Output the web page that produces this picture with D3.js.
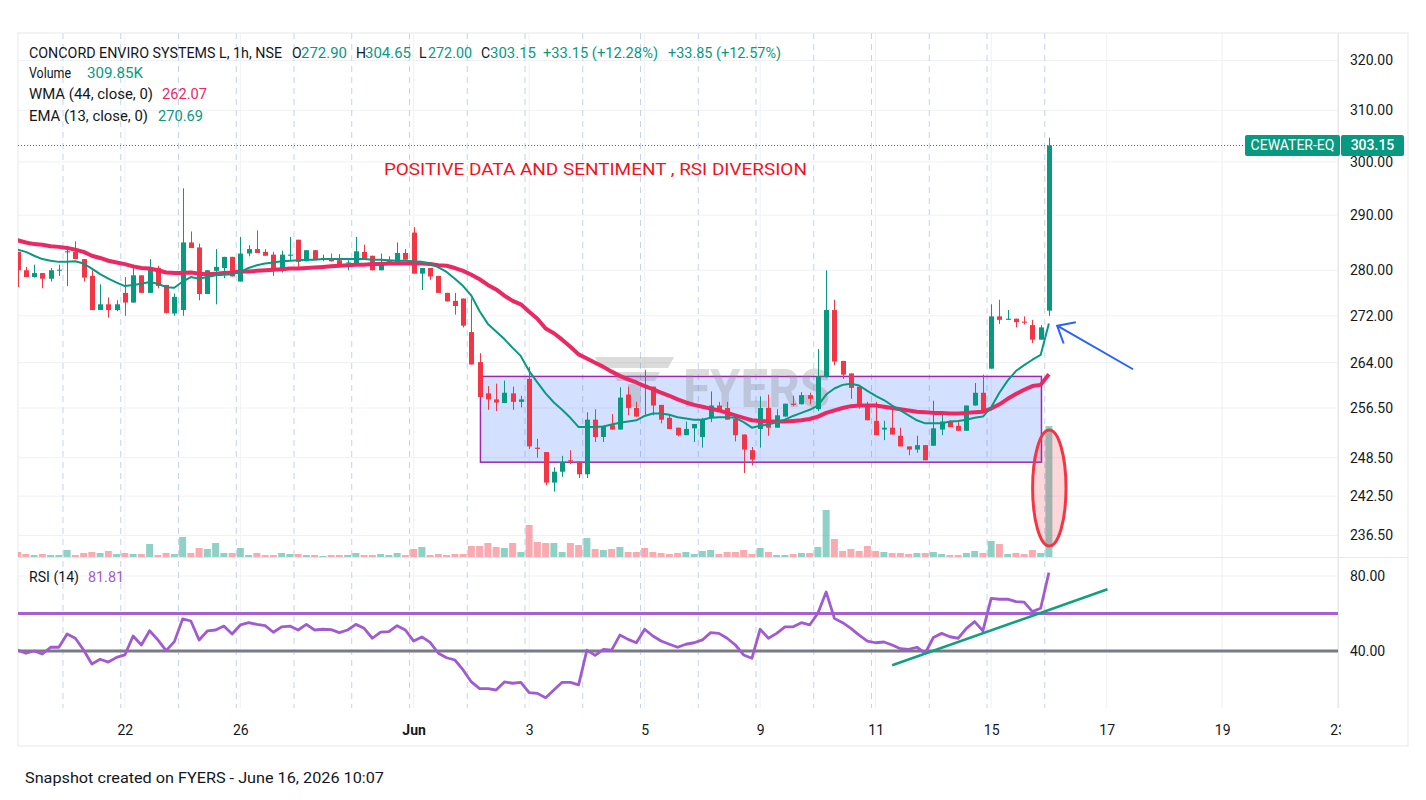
<!DOCTYPE html>
<html lang="en">
<head>
<meta charset="UTF-8">
<title>CONCORD ENVIRO SYSTEMS L, 1h, NSE</title>
<script src="https://d3js.org/d3.v7.min.js"></script>
<style>
  body { margin: 0; background: #fff; }
  svg text { font-family: Roboto, 'Noto Sans', Arial, sans-serif; }
</style>
</head>
<body>
<svg id="chart" width="1426" height="800"></svg>
<script>
// bar 0 = 10:15 bar of 20 May, one bar per hour, 7 bars per session
const open = [
  283.3, 280.0, 278.8, 279.5, 278.5, 280.0,
  283.2, 283.3, 282.0, 279.0, 273.0, 274.0, 273.0,
  276.0, 274.3, 279.1, 276.0, 280.4, 277.4, 272.4,
  273.0, 285.0, 284.1, 275.8, 279.9, 280.4, 282.4,
  278.0, 283.0, 283.8, 283.3, 282.8, 280.4, 282.6,
  285.5, 281.6, 283.6, 282.0, 282.2, 281.8, 281.2,
  281.0, 283.3, 282.6, 280.0, 281.5, 281.3, 283.1,
  286.8, 279.4, 280.4, 279.0, 276.0, 274.6, 275.0,
  269.2, 264.1, 258.9, 257.9, 257.3, 258.9, 257.5,
  261.3, 250.1, 249.4, 244.6, 246.3, 248.1, 247.9,
  245.9, 254.6, 251.8, 253.7, 253.0, 258.7, 256.5,
  260.3, 260.0, 257.0, 254.9, 253.3, 252.1, 253.2,
  251.8, 254.9, 256.9, 256.5, 254.7, 252.2, 249.7,
  253.1, 256.5, 253.3, 255.1, 257.2, 257.1, 258.6,
  256.3, 261.7, 273.0, 264.3, 262.2, 260.0, 257.0,
  254.4, 253.0, 253.3, 252.0, 250.3, 249.8, 250.5,
  250.4, 253.0, 254.3, 253.6, 252.8, 256.9, 259.0,
  263.0, 271.9, 271.3, 271.5, 271.0, 270.4, 267.9,
  272.90
];
const high = [
  283.3, 280.6, 281.0, 279.5, 280.4, 281.0,
  284.4, 285.2, 282.0, 280.0, 277.5, 275.2, 274.7,
  278.8, 281.0, 279.1, 282.0, 280.8, 277.4, 275.9,
  295.0, 287.0, 284.8, 280.0, 283.8, 282.4, 282.4,
  286.0, 284.5, 287.2, 283.8, 283.3, 283.5, 286.0,
  285.5, 283.6, 283.6, 282.8, 283.0, 282.9, 281.8,
  286.0, 284.6, 282.6, 283.0, 282.5, 285.0, 283.8,
  287.8, 280.4, 280.4, 279.0, 276.0, 276.0, 275.0,
  275.0, 265.6, 260.1, 260.5, 261.0, 260.0, 258.5,
  263.3, 251.5, 249.4, 247.0, 248.8, 249.7, 247.9,
  255.8, 256.3, 253.6, 255.5, 259.9, 260.0, 257.5,
  262.8, 260.0, 257.0, 255.5, 253.3, 254.3, 253.9,
  254.9, 259.2, 257.5, 257.5, 254.7, 252.2, 250.2,
  258.4, 258.7, 256.3, 257.2, 258.5, 259.1, 259.0,
  266.3, 280.0, 274.8, 264.3, 262.2, 260.2, 257.5,
  257.5, 254.4, 256.7, 253.3, 250.3, 252.0, 250.5,
  257.7, 255.7, 254.5, 254.2, 256.9, 260.6, 262.0,
  274.0, 274.8, 273.0, 271.5, 271.9, 271.3, 270.4,
  304.65
];
const low = [
  277.0, 278.8, 278.7, 276.8, 278.0, 279.0,
  277.2, 282.0, 278.0, 273.0, 273.0, 271.7, 272.8,
  272.0, 274.3, 276.0, 276.0, 276.8, 272.4, 272.0,
  272.0, 284.0, 274.7, 275.8, 274.0, 278.6, 278.9,
  278.0, 282.5, 283.1, 282.6, 279.0, 279.6, 281.8,
  280.3, 281.6, 281.9, 281.6, 281.6, 280.8, 280.0,
  281.0, 281.9, 280.0, 280.0, 281.3, 281.3, 281.9,
  279.4, 276.5, 278.3, 276.0, 274.5, 272.2, 270.0,
  263.7, 258.3, 256.2, 256.0, 257.3, 256.2, 256.6,
  249.9, 248.5, 244.2, 243.2, 245.5, 247.5, 245.3,
  245.3, 251.0, 251.0, 253.0, 253.0, 255.3, 255.1,
  255.3, 255.3, 254.0, 253.1, 251.9, 252.1, 251.0,
  250.1, 254.2, 256.2, 254.6, 251.1, 246.1, 247.3,
  250.1, 252.0, 253.3, 255.1, 256.8, 257.1, 257.1,
  256.0, 261.5, 263.6, 261.3, 258.0, 256.4, 254.5,
  252.1, 251.3, 252.2, 250.3, 248.9, 249.3, 248.1,
  250.4, 252.1, 253.4, 252.8, 252.8, 256.9, 256.0,
  263.0, 270.6, 271.3, 270.0, 270.5, 267.3, 267.9,
  272.00
];
const close = [
  280.0, 278.8, 279.5, 278.5, 280.0, 280.1,
  283.4, 282.0, 278.7, 273.0, 274.0, 273.0, 274.0,
  274.3, 279.1, 276.0, 280.5, 277.2, 272.5, 275.3,
  285.0, 284.0, 275.8, 280.0, 280.6, 282.4, 278.9,
  283.0, 283.8, 283.1, 282.6, 280.4, 282.8, 282.8,
  281.5, 283.6, 281.9, 282.2, 281.6, 281.1, 281.4,
  283.4, 281.9, 280.0, 281.5, 281.8, 283.1, 281.9,
  279.4, 280.4, 278.9, 276.0, 274.5, 273.7, 270.3,
  263.7, 258.3, 257.9, 257.4, 259.0, 257.5, 257.9,
  250.3, 249.9, 244.6, 246.3, 247.8, 247.9, 245.9,
  254.6, 251.8, 253.6, 253.0, 258.2, 256.5, 255.1,
  260.0, 256.9, 254.6, 253.1, 252.1, 253.1, 253.9,
  254.6, 256.9, 256.2, 254.6, 252.1, 249.8, 248.2,
  256.5, 253.3, 255.3, 257.2, 257.0, 258.6, 258.0,
  261.7, 273.0, 264.2, 262.0, 259.8, 256.8, 254.5,
  252.1, 253.3, 252.2, 250.3, 249.8, 250.5, 248.1,
  253.2, 254.3, 253.4, 252.8, 256.9, 259.0, 256.0,
  271.9, 271.3, 271.5, 270.9, 270.8, 267.9, 270.0,
  303.15
];
// volume in thousands
const volumeK = [
  11.8, 7.1, 4.7, 7.1, 4.7, 4.7,
  16.6, 4.7, 9.5, 11.8, 9.5, 14.2, 7.1,
  9.5, 7.1, 7.1, 30.7, 4.7, 9.5, 7.1,
  47.3, 9.5, 21.3, 18.9, 33.1, 9.5, 9.5,
  21.3, 4.7, 9.5, 4.7, 4.7, 9.5, 7.1,
  7.1, 4.7, 4.7, 2.4, 4.7, 4.7, 4.7,
  9.5, 4.7, 4.7, 7.1, 4.7, 9.5, 4.7,
  18.9, 23.7, 4.7, 7.1, 4.7, 7.1, 7.1,
  26.0, 26.0, 33.1, 23.7, 21.3, 33.1, 11.8,
  75.7, 35.5, 33.1, 33.1, 11.8, 33.1, 28.4,
  45.0, 18.9, 16.6, 18.9, 23.7, 11.8, 11.8,
  21.3, 11.8, 9.5, 7.1, 9.5, 11.8, 7.1,
  14.2, 16.6, 7.1, 11.8, 11.8, 16.6, 7.1,
  21.3, 11.8, 4.7, 4.7, 7.1, 9.5, 9.5,
  23.7, 111.2, 42.6, 14.2, 18.9, 14.2, 26.0,
  14.2, 11.8, 9.5, 9.5, 7.1, 9.5, 9.5,
  11.8, 7.1, 4.7, 4.7, 9.5, 14.2, 9.5,
  37.8, 30.7, 7.1, 9.5, 7.1, 16.6, 9.5,
  309.85
];
const ema13 = [
  283.7, 283.3, 282.6, 282.0, 281.7, 281.5,
  281.5, 281.6, 281.2, 280.3, 279.3, 278.5, 277.8,
  277.2, 277.4, 277.6, 277.9, 277.6, 277.0, 276.9,
  278.0, 278.8, 278.5, 278.8, 279.1, 279.2, 279.3,
  279.7, 280.4, 280.9, 281.2, 281.4, 281.6, 281.7,
  281.8, 281.9, 281.9, 282.0, 282.0, 282.0, 282.0,
  282.0, 282.0, 281.9, 281.9, 281.8, 281.7, 281.7,
  281.6, 281.5, 281.2, 280.5, 279.7, 278.5, 277.2,
  275.5, 272.8, 270.6, 269.3, 268.0, 266.5, 265.1,
  262.6, 260.7, 258.9, 257.4, 256.2, 254.9, 253.4,
  253.4, 253.4, 253.5, 253.8, 254.1, 254.3, 254.5,
  255.2, 255.6, 255.6, 255.4, 255.0, 254.8, 254.6,
  254.6, 254.9, 255.0, 255.0, 254.9, 254.2, 253.3,
  253.6, 253.8, 254.2, 254.6, 255.2, 255.7, 256.2,
  256.9, 258.7, 259.7, 260.3, 260.5, 260.2, 259.3,
  258.5, 257.8, 256.9, 256.1, 255.3, 254.5, 254.0,
  254.0, 254.0, 254.3, 254.4, 254.6, 254.9, 255.1,
  256.6, 259.0, 261.0, 262.6, 263.6, 264.5, 265.3,
  270.69
];
const wma44 = [
  285.4, 285.0, 284.7, 284.6, 284.3, 284.2,
  284.0, 283.7, 283.3, 282.6, 282.2, 281.7, 281.4,
  281.1, 280.7, 280.4, 280.3, 280.0, 279.6, 279.5,
  279.5, 279.6, 279.4, 279.3, 279.4, 279.5, 279.6,
  279.8, 279.8, 279.9, 280.0, 280.1, 280.2, 280.3,
  280.3, 280.4, 280.5, 280.6, 280.7, 280.8, 280.9,
  281.0, 281.0, 281.1, 281.1, 281.2, 281.2, 281.2,
  281.2, 281.2, 281.1, 280.9, 280.8, 280.4, 279.9,
  279.2, 278.4, 277.4, 276.6, 275.5, 274.6, 274.0,
  272.7, 271.5, 269.8, 269.0, 267.9, 266.7, 265.4,
  264.7, 264.0, 263.3, 262.5, 261.8, 261.2, 260.7,
  260.1, 259.6, 259.0, 258.5, 257.9, 257.4, 257.0,
  256.7, 256.4, 256.1, 255.7, 255.3, 254.9, 254.5,
  254.4, 254.3, 254.3, 254.3, 254.4, 254.5, 254.7,
  255.1, 255.7, 256.1, 256.5, 256.8, 256.9, 256.9,
  256.9, 256.7, 256.5, 256.3, 256.1, 255.9, 255.8,
  255.7, 255.7, 255.6, 255.6, 255.7, 255.8, 255.9,
  256.4, 257.1, 258.0, 258.8, 259.5, 260.1, 260.3,
  262.07
];
const rsi14 = [
  40.5, 38.8, 40.0, 38.4, 42.0, 42.0,
  49.1, 46.8, 40.5, 33.1, 35.6, 34.1, 36.6,
  37.9, 48.0, 43.2, 50.8, 45.9, 40.2, 45.0,
  57.1, 56.0, 45.9, 50.7, 51.2, 53.3, 49.1,
  53.9, 55.1, 54.2, 53.5, 50.0, 52.9, 53.3,
  51.2, 54.2, 51.2, 51.6, 51.4, 49.8, 51.2,
  54.2, 52.1, 46.8, 50.1, 50.3, 53.5, 51.2,
  45.3, 47.5, 44.6, 38.8, 36.4, 35.2, 29.9,
  23.5, 19.9, 19.9, 19.2, 23.5, 22.8, 23.3,
  17.8, 17.4, 15.1, 19.2, 23.3, 23.3, 21.9,
  40.5, 37.7, 40.9, 40.5, 48.5, 46.2, 44.4,
  51.6, 48.0, 45.3, 43.6, 42.0, 43.6, 44.4,
  45.9, 49.8, 49.4, 46.8, 43.2, 37.9, 36.1,
  51.6, 46.8, 49.4, 52.9, 52.9, 55.1, 53.9,
  60.1, 71.5, 57.4, 55.1, 52.1, 48.5, 45.3,
  44.4, 44.8, 43.2, 41.2, 40.9, 42.0, 38.8,
  47.2, 49.4, 47.6, 46.8, 52.1, 55.7, 50.7,
  68.1, 67.6, 67.7, 66.3, 66.1, 61.0, 62.8,
  81.81
];

const sessionStartBars = d3.range(6, 126, 7);
const timeTickBars = [13, 27, 48, 62, 76, 90, 104, 118, 132, 146, 160];
const timeTickLabels = ['22', '26', 'Jun', '3', '5', '9', '11', '15', '17', '19', '23'];
const priceTicks = [320, 310, 300, 290, 280, 272, 264, 256.5, 248.5, 242.5, 236.5];
const rsiTicks = [80, 40];
const rsiLevels = [60, 40];
const lastPrice = 303.15;
const symbol = 'CEWATER-EQ';

// drawings made on the chart
const zoneBars = [56.1, 124.1], zonePrices = [261.7, 247.8];
const arrowFrom = [135.2, 262.9], arrowTo = [126.0, 270.3];
const volEllipse = { bar: 125.05, top: 300.4, bottom: 26 };
const rsiTrend = [[106.0, 32.4], [132.1, 72.9]];

// layout
const L = 18, R = 1338, T = 33, PB = 557, RT = 558, RB = 708, B = 746, AXR = 1408;
const upCol = '#089981', downCol = '#f23645';
const font = "Roboto, 'Noto Sans', Arial, sans-serif";

const x = d3.scaleLinear().domain([0, 125]).range([17.6, 1048.9]);
const y = d3.scaleLog().domain([236.5, 320]).range([535.5, 60.5]);
const yVol = d3.scaleLinear().domain([0, 309.85]).range([PB, 426]);
const yRsi = d3.scaleLinear().domain([40, 80]).range([651, 576]);
const step = x(1) - x(0);

const bars = open.map((o, i) => ({ i, o, h: high[i], l: low[i], c: close[i], v: volumeK[i] }));
const isUp = d => d.c >= d.o;

const svg = d3.select('#chart');
const defs = svg.append('defs');
defs.append('clipPath').attr('id', 'clipPrice').append('rect')
    .attr('x', L).attr('y', T).attr('width', R - L).attr('height', PB - T);
defs.append('clipPath').attr('id', 'clipRsi').append('rect')
    .attr('x', L).attr('y', RT).attr('width', R - L).attr('height', RB - RT);
defs.append('clipPath').attr('id', 'clipTime').append('rect')
    .attr('x', L).attr('y', RB).attr('width', R - L + 3).attr('height', B - RB);

// grid
const grid = svg.append('g');
grid.selectAll('.hg').data(priceTicks).join('line')
    .attr('x1', L).attr('x2', R).attr('y1', d => y(d)).attr('y2', d => y(d))
    .attr('stroke', '#eff1f4');
grid.append('line').attr('x1', L).attr('x2', R).attr('y1', yRsi(80)).attr('y2', yRsi(80)).attr('stroke', '#eff1f4');
grid.selectAll('.vg').data(timeTickBars).join('line')
    .attr('x1', d => x(d)).attr('x2', d => x(d)).attr('y1', T).attr('y2', RB)
    .attr('stroke', '#eff1f4');
grid.selectAll('.sess').data(sessionStartBars).join('line')
    .attr('x1', d => x(d) - step / 2).attr('x2', d => x(d) - step / 2).attr('y1', T).attr('y2', RB)
    .attr('stroke', '#c3d3f0').attr('stroke-dasharray', '6,5');

// frame
svg.append('rect').attr('x', L).attr('y', T).attr('width', AXR - L).attr('height', B - T)
    .attr('fill', 'none').attr('stroke', '#e6e8ec');
svg.append('line').attr('x1', L).attr('x2', AXR).attr('y1', PB + 0.5).attr('y2', PB + 0.5).attr('stroke', '#e6e8ec');
svg.append('line').attr('x1', R + 0.5).attr('x2', R + 0.5).attr('y1', T).attr('y2', RB).attr('stroke', '#e6e8ec');

const gp = svg.append('g').attr('clip-path', 'url(#clipPrice)');

// volume
gp.selectAll('.vol').data(bars).join('rect')
    .attr('x', d => x(d.i) - 3.5).attr('width', 7)
    .attr('y', d => yVol(d.v)).attr('height', d => yVol(0) - yVol(d.v))
    .attr('fill', d => isUp(d) ? 'rgba(8,153,129,0.45)' : 'rgba(242,54,69,0.42)');

// range box
gp.append('rect')
    .attr('x', x(zoneBars[0])).attr('width', x(zoneBars[1]) - x(zoneBars[0]))
    .attr('y', y(zonePrices[0])).attr('height', y(zonePrices[1]) - y(zonePrices[0]))
    .attr('fill', 'rgba(41,98,255,0.2)').attr('stroke', '#9c27b0').attr('stroke-width', 1.5);

// watermark
const wm = gp.append('g').attr('opacity', 0.3).attr('fill', '#8a8a8a');
wm.append('path').attr('d', 'M595,357 L674,357 L668,368 L601,368 Z M612,372 L660,372 L655,381 L617,381 Z M628,384 L641,384 L641,407 L628,407 Z');
wm.append('text').attr('x', 683).attr('y', 407).attr('font-size', 54).attr('font-weight', 700)
    .attr('textLength', 147).attr('lengthAdjust', 'spacingAndGlyphs').text('FYERS');

// candles
const cg = gp.append('g');
cg.selectAll('.wick').data(bars).join('line')
    .attr('x1', d => Math.round(x(d.i)) + 0.5).attr('x2', d => Math.round(x(d.i)) + 0.5)
    .attr('y1', d => y(d.h)).attr('y2', d => y(d.l))
    .attr('stroke', d => isUp(d) ? upCol : downCol);
cg.selectAll('.body').data(bars).join('rect')
    .attr('x', d => Math.round(x(d.i)) - 2).attr('width', 5)
    .attr('y', d => y(Math.max(d.o, d.c)))
    .attr('height', d => Math.max(1, y(Math.min(d.o, d.c)) - y(Math.max(d.o, d.c))))
    .attr('fill', d => isUp(d) ? upCol : downCol);

// moving averages
const maLine = d3.line().x((d, i) => x(i)).y(d => y(d));
gp.append('path').datum(wma44).attr('d', maLine).attr('fill', 'none')
    .attr('stroke', '#ec2863').attr('stroke-width', 4).attr('stroke-linejoin', 'round');
gp.append('path').datum(ema13).attr('d', maLine).attr('fill', 'none')
    .attr('stroke', '#089981').attr('stroke-width', 2).attr('stroke-linejoin', 'round');

// volume ellipse
const ex = x(volEllipse.bar), ey1 = yVol(volEllipse.top), ey2 = yVol(volEllipse.bottom);
gp.append('ellipse').attr('cx', ex).attr('cy', (ey1 + ey2) / 2).attr('rx', 16.7).attr('ry', (ey2 - ey1) / 2)
    .attr('fill', 'rgba(242,54,69,0.2)').attr('stroke', '#f23645').attr('stroke-width', 3);

// arrow
const ax1 = x(arrowFrom[0]), ay1 = y(arrowFrom[1]), ax2 = x(arrowTo[0]), ay2 = y(arrowTo[1]);
const ang = Math.atan2(ay1 - ay2, ax1 - ax2);
const head = a => [ax2 + 19 * Math.cos(ang + a), ay2 + 19 * Math.sin(ang + a)];
gp.append('path')
    .attr('d', `M${ax1},${ay1} L${ax2},${ay2} M${head(-0.7)} L${ax2},${ay2} L${head(0.7)}`)
    .attr('fill', 'none').attr('stroke', '#2962ff').attr('stroke-width', 2);

// last price line
gp.append('line').attr('x1', L).attr('x2', 1245).attr('y1', y(lastPrice)).attr('y2', y(lastPrice))
    .attr('stroke', upCol).attr('stroke-dasharray', '1,2');

// note text
svg.append('text').attr('x', x(44.4)).attr('y', y(297.6))
    .attr('font-size', 17).attr('fill', '#f2121e')
    .attr('textLength', 423).attr('lengthAdjust', 'spacingAndGlyphs')
    .text('POSITIVE DATA AND SENTIMENT , RSI DIVERSION');

// RSI pane
const gr = svg.append('g').attr('clip-path', 'url(#clipRsi)');
gr.selectAll('.lvl').data(rsiLevels).join('line')
    .attr('x1', L).attr('x2', R).attr('y1', d => yRsi(d)).attr('y2', d => yRsi(d))
    .attr('stroke', (d, i) => i === 0 ? '#a560d2' : '#787b86').attr('stroke-width', 3);
gr.append('path').datum(rsi14)
    .attr('d', d3.line().x((d, i) => x(i)).y(d => yRsi(d)))
    .attr('fill', 'none').attr('stroke', '#a15bd0').attr('stroke-width', 2.8).attr('stroke-linejoin', 'round');
gr.append('line')
    .attr('x1', x(rsiTrend[0][0])).attr('y1', yRsi(rsiTrend[0][1]))
    .attr('x2', x(rsiTrend[1][0])).attr('y2', yRsi(rsiTrend[1][1]))
    .attr('stroke', '#12a07e').attr('stroke-width', 2.6);

// axes
const styleAxis = g => {
  g.select('.domain').remove();
  g.selectAll('text').attr('font-family', font).attr('font-size', 14).attr('fill', '#131722');
};
svg.append('g').attr('transform', `translate(${R},0)`)
    .call(d3.axisRight(y).tickValues(priceTicks).tickFormat(d3.format('.2f')).tickSize(0).tickPadding(12))
    .call(styleAxis);
svg.append('g').attr('transform', `translate(${R},0)`)
    .call(d3.axisRight(yRsi).tickValues(rsiTicks).tickFormat(d3.format('.2f')).tickSize(0).tickPadding(12))
    .call(styleAxis);
svg.append('g').attr('clip-path', 'url(#clipTime)').append('g').attr('transform', `translate(0,${RB})`)
    .call(d3.axisBottom(x).tickValues(timeTickBars).tickFormat((d, i) => timeTickLabels[i]).tickSize(0).tickPadding(17))
    .call(styleAxis)
    .call(g => g.selectAll('text').attr('font-weight', d => timeTickLabels[timeTickBars.indexOf(d)] === 'Jun' ? 700 : 400));

// last price label
const ly = y(lastPrice);
svg.append('rect').attr('x', 1245).attr('y', ly - 10.5).attr('width', 95).attr('height', 21).attr('rx', 2).attr('fill', upCol);
svg.append('rect').attr('x', 1341).attr('y', ly - 10.5).attr('width', 63).attr('height', 21).attr('rx', 2).attr('fill', upCol);
svg.append('text').attr('x', 1292.5).attr('y', ly + 5).attr('text-anchor', 'middle').attr('font-size', 14)
    .attr('fill', '#fff').text(symbol);
svg.append('text').attr('x', 1372.5).attr('y', ly + 5).attr('text-anchor', 'middle').attr('font-size', 14)
    .attr('font-weight', 500).attr('fill', '#fff').text(d3.format('.2f')(lastPrice));

// legend
const seg = (xx, yy, txt, col, len) => {
  const t = svg.append('text').attr('x', xx).attr('y', yy).attr('font-size', 14).attr('fill', col).text(txt);
  if (len) t.attr('textLength', len).attr('lengthAdjust', 'spacingAndGlyphs');
};
const last = bars[bars.length - 1];
const fmt = d3.format('.2f');
seg(29, 58, 'CONCORD ENVIRO SYSTEMS L, 1h, NSE', '#131722', 253);
seg(292, 58, 'O', '#131722'); seg(301, 58, fmt(last.o), upCol, 46);
seg(356, 58, 'H', '#131722'); seg(365, 58, fmt(last.h), upCol, 46);
seg(419, 58, 'L', '#131722'); seg(428, 58, fmt(last.l), upCol, 44);
seg(481, 58, 'C', '#131722'); seg(490, 58, fmt(last.c), upCol, 46);
seg(543, 58, '+33.15 (+12.28%)', upCol, 115);
seg(668, 58, '+33.85 (+12.57%)', upCol, 113);
seg(29, 78, 'Volume', '#131722', 42); seg(87, 78, `${fmt(last.v)}K`, upCol, 56);
seg(29, 99, 'WMA (44, close, 0)', '#131722', 124); seg(162, 99, fmt(wma44[wma44.length - 1]), '#ec2863', 45);
seg(29, 121, 'EMA (13, close, 0)', '#131722', 119); seg(158, 121, fmt(ema13[ema13.length - 1]), upCol, 45);
seg(29, 582, 'RSI (14)', '#131722', 50); seg(88, 582, fmt(rsi14[rsi14.length - 1]), '#a15bd0', 36);

svg.append('text').attr('x', 25).attr('y', 783).attr('font-size', 15).attr('fill', '#131722')
    .attr('textLength', 359).attr('lengthAdjust', 'spacingAndGlyphs')
    .text('Snapshot created on FYERS - June 16, 2026 10:07');
</script>
</body>
</html>
